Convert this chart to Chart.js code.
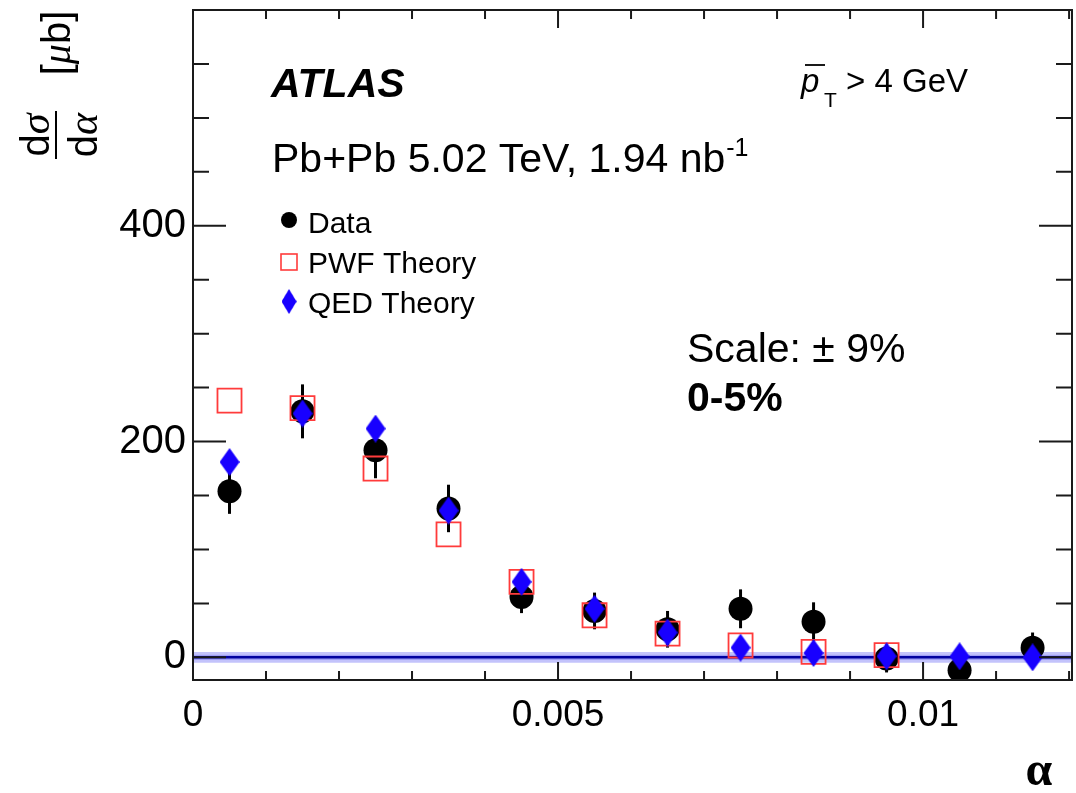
<!DOCTYPE html>
<html>
<head>
<meta charset="utf-8">
<script src="https://cdn.jsdelivr.net/npm/chart.js@4.4.1/dist/chart.umd.min.js"></script>
<style>
  html, body { margin: 0; padding: 0; background: #fff; }
</style>
</head>
<body>
<canvas id="chart" width="1076" height="793"></canvas>
<script>
// bin centres in alpha
const alphaBins = [0.0005, 0.0015, 0.0025, 0.0035, 0.0045, 0.0055, 0.0065, 0.0075, 0.0085, 0.0095, 0.0105, 0.0115];
// measured cross section [ub] and its uncertainty
const dataValues = [154, 228, 192, 138, 56, 43, 26, 45, 33, -1, -12, 9];
const dataErrors = [21, 25, 26, 22, 15, 17, 17, 18, 18, 13, 8, 14];
// theory predictions
const pwfValues = [238, 231, 175, 114, 70, 39, 22, 11, 5, 2, null, null];
const qedValues = [181, 226, 212, 136, 70, 45, 23, 9, 4, 1, 1, 0];
// band around zero
const bandX = [0, 0.01204];
const bandOuter = [5, -5];
const bandInner = [2.5, -2.5];
// axis labels
const xTickLabels = [0, 0.005, 0.01];
const yTickLabels = [0, 200, 400];

const SANS = '"Liberation Sans", Arial, Helvetica, sans-serif';
const SERIF = '"Liberation Serif", "Times New Roman", serif';

// tall diamond marker for QED
const diamond = document.createElement('canvas');
diamond.width = 20;
diamond.height = 28;
(function () {
    const c = diamond.getContext('2d');
    c.fillStyle = '#1800ff';
    c.beginPath();
    c.moveTo(10, 0);
    c.lineTo(20, 14);
    c.lineTo(10, 28);
    c.lineTo(0, 14);
    c.closePath();
    c.fill();
})();

function pts(values) {
    return alphaBins.map((x, i) => ({ x: x, y: values[i] }));
}

function drawRich(ctx, segs, x, y, align) {
    let total = 0;
    segs.forEach(s => { ctx.font = s.font; total += ctx.measureText(s.text).width + (s.dx || 0); });
    let cx = align === 'center' ? x - total / 2 : x;
    ctx.textAlign = 'left';
    segs.forEach(s => {
        ctx.font = s.font;
        cx += (s.dx || 0);
        ctx.fillText(s.text, cx, y + (s.dy || 0));
        cx += ctx.measureText(s.text).width;
    });
}

const errorBars = {
    id: 'errorBars',
    afterDatasetDraw(chart, args) {
        if (args.index !== 2) return;
        const { ctx, scales: { x, y } } = chart;
        ctx.save();
        ctx.strokeStyle = '#000';
        ctx.lineWidth = 3;
        alphaBins.forEach((a, i) => {
            const px = x.getPixelForValue(a);
            ctx.beginPath();
            ctx.moveTo(px, y.getPixelForValue(dataValues[i] - dataErrors[i]));
            ctx.lineTo(px, y.getPixelForValue(dataValues[i] + dataErrors[i]));
            ctx.stroke();
        });
        ctx.restore();
    }
};

const frame = {
    id: 'frame',
    afterDraw(chart) {
        const { ctx, chartArea: a, scales: { x, y } } = chart;
        ctx.save();
        ctx.strokeStyle = '#1a1a1a';
        ctx.lineWidth = 2;
        ctx.strokeRect(a.left, a.top, a.right - a.left, a.bottom - a.top);

        // y ticks, both sides
        for (let v = 0; v <= 550; v += 50) {
            const py = y.getPixelForValue(v);
            const len = v % 200 === 0 ? 33 : 16;
            ctx.beginPath();
            ctx.moveTo(a.left, py); ctx.lineTo(a.left + len, py);
            ctx.moveTo(a.right, py); ctx.lineTo(a.right - len, py);
            ctx.stroke();
        }
        // x ticks, top and bottom
        for (let k = 1; k <= 12; k++) {
            const px = x.getPixelForValue(k * 0.001);
            const len = k % 5 === 0 ? 18 : 9;
            ctx.beginPath();
            ctx.moveTo(px, a.bottom); ctx.lineTo(px, a.bottom - len);
            ctx.moveTo(px, a.top); ctx.lineTo(px, a.top + len);
            ctx.stroke();
        }

        ctx.fillStyle = '#000';
        ctx.textBaseline = 'alphabetic';

        // ATLAS label
        ctx.font = 'italic bold 41px ' + SANS;
        ctx.textAlign = 'left';
        ctx.fillText('ATLAS', 271, 97);

        drawRich(ctx, [
            { text: 'Pb+Pb 5.02 TeV, 1.94 nb', font: '41px ' + SANS },
            { text: '-1', font: '25px ' + SANS, dy: -16, dx: 1 }
        ], 272, 172, 'left');

        // pT cut
        ctx.font = 'italic 33px ' + SANS;
        ctx.fillText('p', 801, 92);
        ctx.lineWidth = 2;
        ctx.beginPath();
        ctx.moveTo(805, 65); ctx.lineTo(825, 65);
        ctx.stroke();
        ctx.font = '21px ' + SANS;
        ctx.fillText('T', 824, 107);
        ctx.font = '33px ' + SANS;
        ctx.fillText('> 4 GeV', 846, 92);

        // legend
        const lx = 289;
        ctx.beginPath();
        ctx.arc(lx, 220, 8, 0, Math.PI * 2);
        ctx.fill();
        ctx.strokeStyle = '#ff3b3b';
        ctx.lineWidth = 1.6;
        ctx.strokeRect(lx - 8, 254, 16, 16);
        ctx.drawImage(diamond, lx - 7.5, 289, 15, 25);
        ctx.font = '30px ' + SANS;
        ctx.fillText('Data', 308, 233);
        ctx.fillText('PWF Theory', 308, 273);
        ctx.fillText('QED Theory', 308, 313);

        // scale note
        ctx.font = '41px ' + SANS;
        ctx.fillText('Scale: \u00b1 9%', 687, 362);
        ctx.font = 'bold 41px ' + SANS;
        ctx.fillText('0-5%', 687, 411);

        // x title
        ctx.font = 'bold 48px ' + SERIF;
        ctx.textAlign = 'center';
        ctx.fillText('\u03b1', 1039, 785);

        // y title, rotated
        ctx.save();
        ctx.translate(56, 135);
        ctx.rotate(-Math.PI / 2);
        drawRich(ctx, [
            { text: 'd', font: '40px ' + SANS },
            { text: '\u03c3', font: 'italic 42px ' + SERIF }
        ], 0, -7, 'center');
        drawRich(ctx, [
            { text: 'd', font: '40px ' + SANS },
            { text: '\u03b1', font: 'italic 42px ' + SERIF }
        ], 0, 41, 'center');
        ctx.strokeStyle = '#000';
        ctx.lineWidth = 2;
        ctx.beginPath();
        ctx.moveTo(-24, 0); ctx.lineTo(24, 0);
        ctx.stroke();
        ctx.restore();

        ctx.save();
        ctx.translate(70, 43);
        ctx.rotate(-Math.PI / 2);
        drawRich(ctx, [
            { text: '[', font: '40px ' + SANS },
            { text: '\u03bc', font: 'italic 40px ' + SERIF },
            { text: 'b]', font: '40px ' + SANS }
        ], 0, 0, 'center');
        ctx.restore();

        ctx.restore();
    }
};

new Chart(document.getElementById('chart'), {
    type: 'scatter',
    data: {
        datasets: [
            {
                label: 'QED Theory',
                data: pts(qedValues),
                pointStyle: diamond,
                pointRadius: 10,
                order: 0
            },
            {
                label: 'PWF Theory',
                data: pts(pwfValues),
                pointStyle: 'rect',
                pointRadius: 17,
                borderColor: '#ff3b3b',
                backgroundColor: 'rgba(0,0,0,0)',
                borderWidth: 1.8,
                order: 1
            },
            {
                label: 'Data',
                data: pts(dataValues),
                pointStyle: 'circle',
                pointRadius: 12,
                borderWidth: 0,
                backgroundColor: '#000',
                borderColor: '#000',
                order: 2
            },
            {
                type: 'line',
                data: bandX.map(x => ({ x: x, y: bandOuter[0] })),
                fill: { value: bandOuter[1] },
                backgroundColor: 'rgba(175,175,250,0.75)',
                borderWidth: 0,
                pointRadius: 0,
                order: 5
            },
            {
                type: 'line',
                data: bandX.map(x => ({ x: x, y: bandInner[0] })),
                fill: { value: bandInner[1] },
                backgroundColor: 'rgba(130,130,240,0.55)',
                borderWidth: 0,
                pointRadius: 0,
                order: 4
            },
            {
                type: 'line',
                data: bandX.map(x => ({ x: x, y: 0 })),
                borderColor: '#0000a0',
                borderWidth: 2.5,
                pointRadius: 0,
                fill: false,
                order: 3
            }
        ]
    },
    options: {
        responsive: false,
        animation: false,
        layout: { autoPadding: false, padding: { left: 0, right: 4, top: 10, bottom: 0 } },
        plugins: {
            legend: { display: false },
            tooltip: { enabled: false }
        },
        scales: {
            x: {
                type: 'linear',
                min: 0,
                max: 0.01204,
                grid: { display: false, drawTicks: false },
                border: { display: false },
                afterBuildTicks: s => { s.ticks = xTickLabels.map(v => ({ value: v })); },
                afterFit: s => { s.height = 113; s.paddingLeft = 0; s.paddingRight = 0; },
                ticks: {
                    color: '#000',
                    padding: 14,
                    maxRotation: 0,
                    font: { family: SANS, size: 37 },
                    callback: v => String(v)
                }
            },
            y: {
                min: -21,
                max: 600,
                grid: { display: false, drawTicks: false },
                border: { display: false },
                afterBuildTicks: s => { s.ticks = yTickLabels.map(v => ({ value: v })); },
                afterFit: s => { s.width = 193; s.paddingTop = 0; s.paddingBottom = 0; },
                ticks: {
                    color: '#000',
                    padding: 7,
                    font: { family: SANS, size: 40 },
                    callback: v => String(v)
                }
            }
        }
    },
    plugins: [errorBars, frame]
});
</script>
</body>
</html>
